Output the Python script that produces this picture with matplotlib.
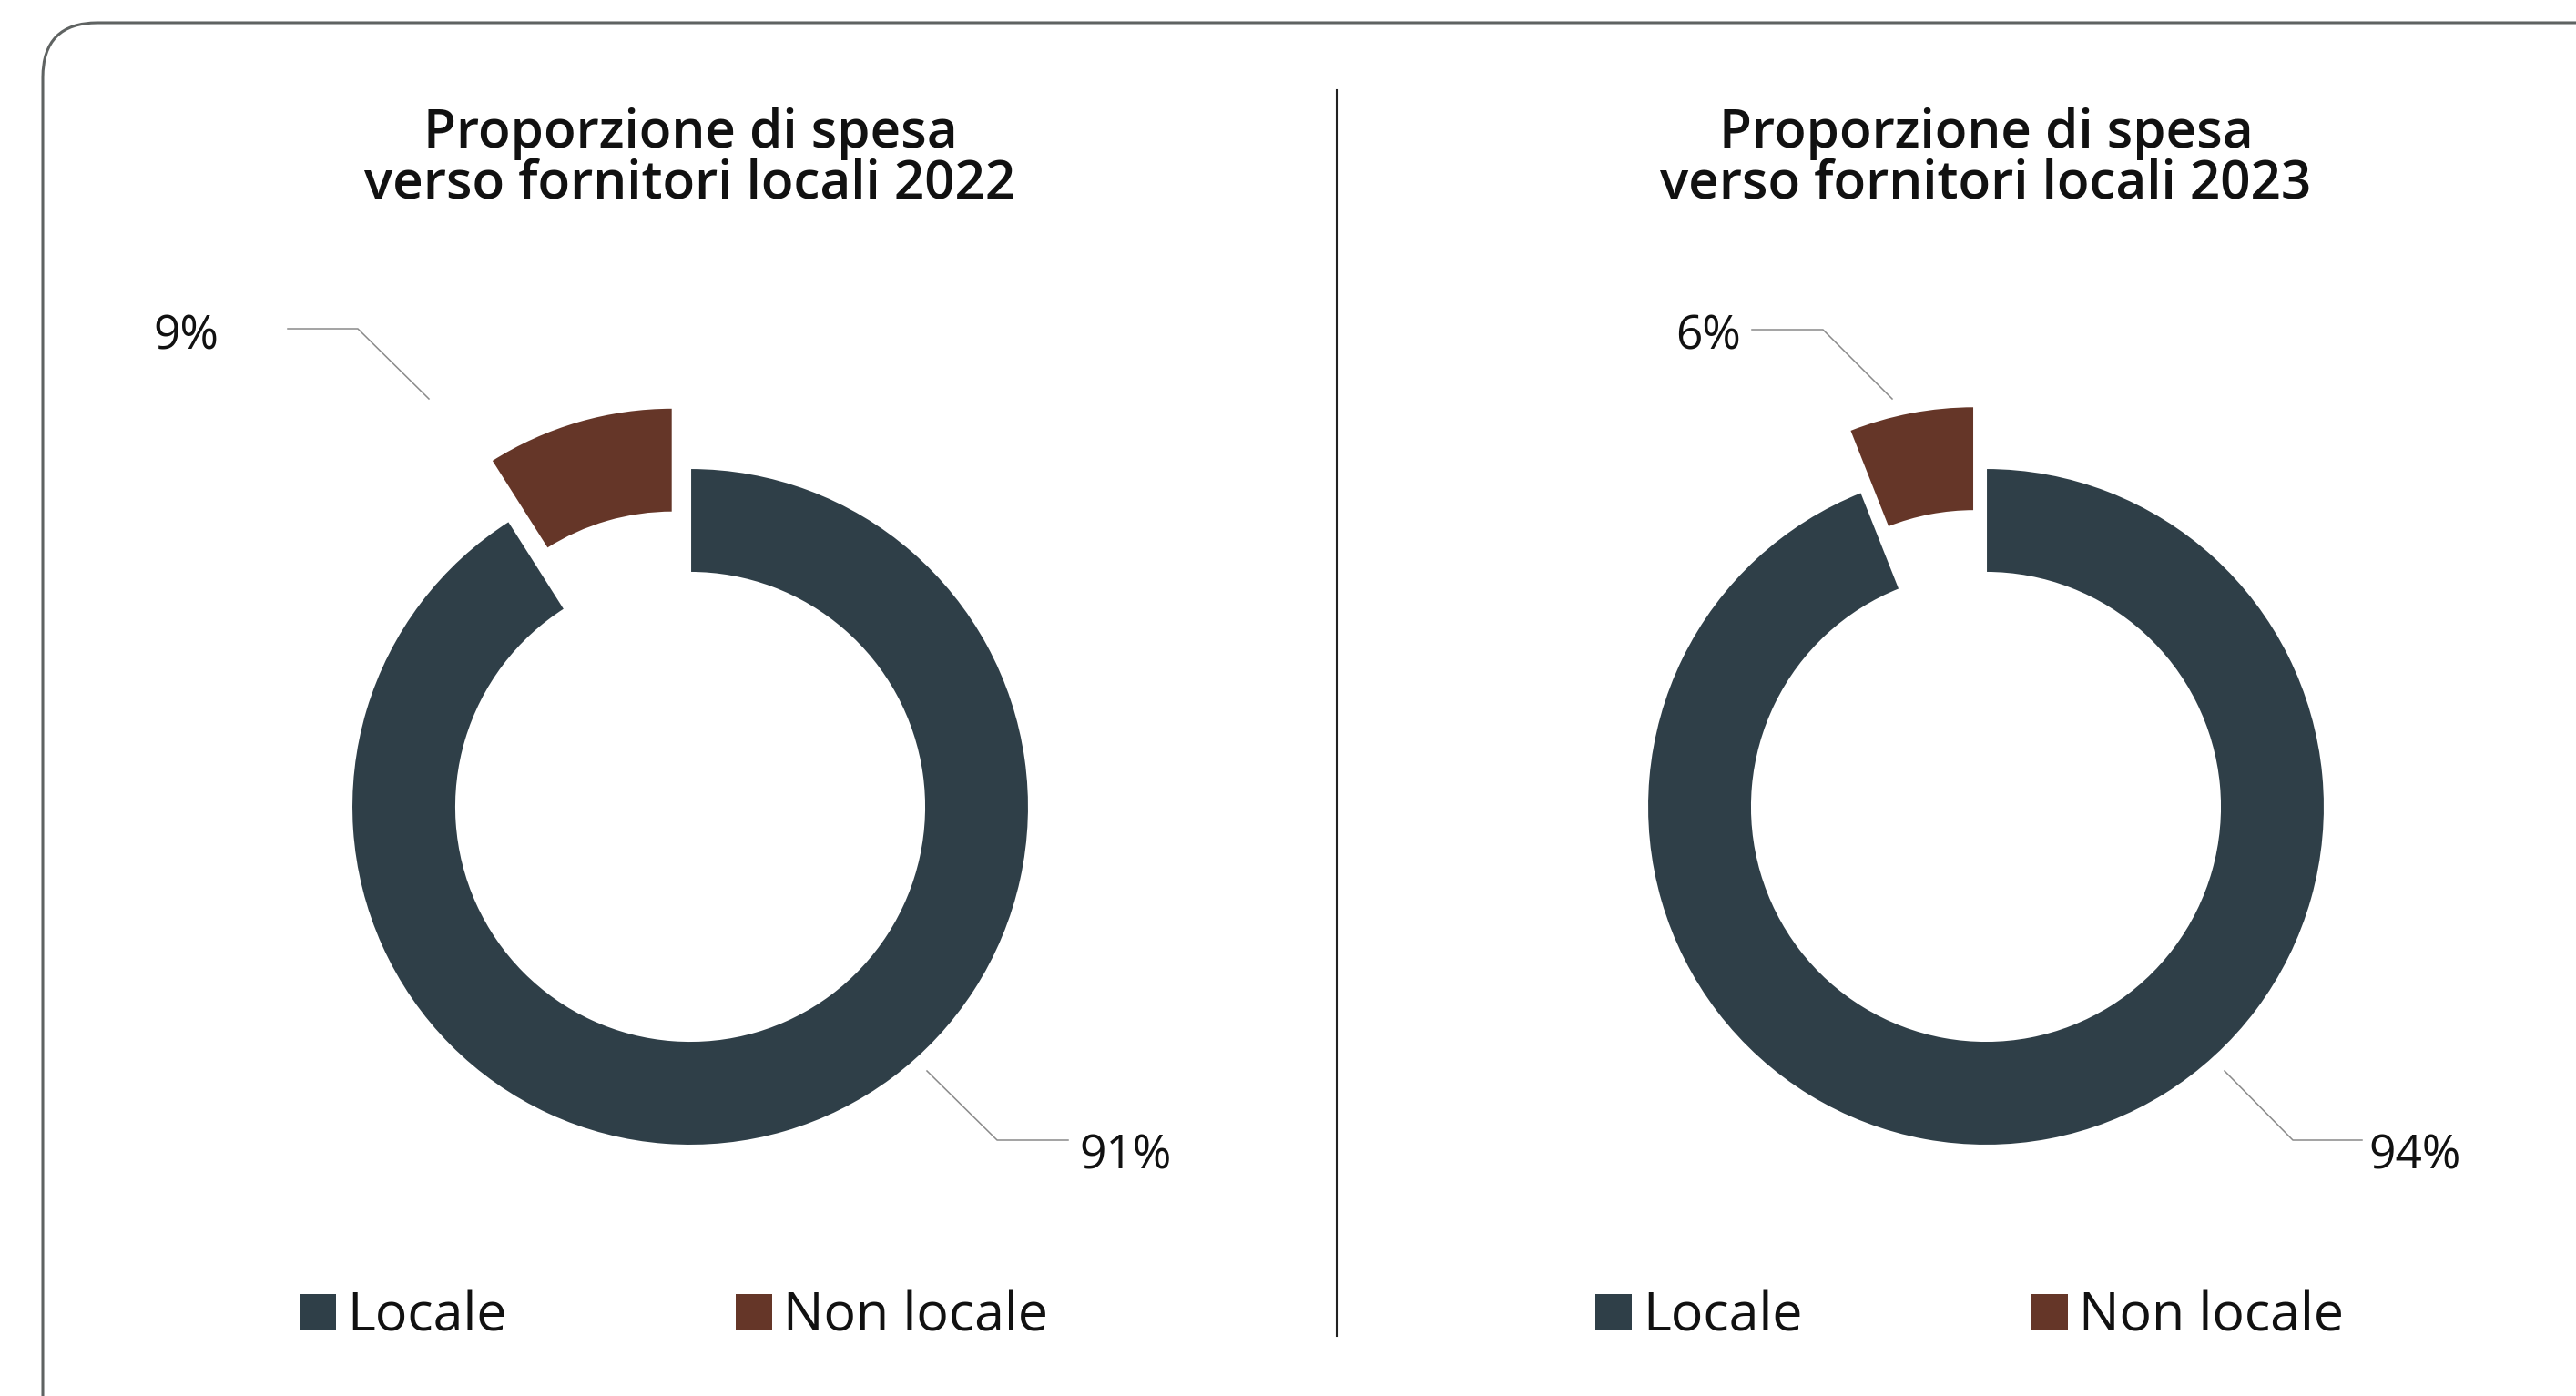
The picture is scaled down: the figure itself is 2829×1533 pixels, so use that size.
import numpy as np
import matplotlib
matplotlib.use('Agg')
import matplotlib.pyplot as plt
from matplotlib.patches import FancyBboxPatch, Rectangle

# Data
years = ['2022', '2023']
categories = ['Locale', 'Non locale']
locale_pct = [91, 94]
non_locale_pct = [9, 6]
colors = ['#2f3f48', '#653628']

W, H = 2829, 1533
DPI = 100

def Y(y):
    '''top-based pixel row -> axes y'''
    return H - y

fig = plt.figure(figsize=(W / DPI, H / DPI), dpi=DPI)
ax = fig.add_axes([0, 0, 1, 1])

title_font = dict(family=['Open Sans', 'DejaVu Sans'], weight='semibold', fontsize=42, color='#111111')
pct_font = dict(family=['Open Sans', 'DejaVu Sans'], weight='normal', fontsize=37, color='#111111')
leg_font = dict(family=['Open Sans', 'DejaVu Sans'], weight='normal', fontsize=42.5, color='#111111')

# outer frame (rounded, cut by the right and bottom edges)
frame = FancyBboxPatch((47, Y(1700)), 3000, 1675,
                       boxstyle='round,pad=0,rounding_size=60',
                       fc='none', ec='#5f6362', lw=2.2, clip_on=True)
ax.add_patch(frame)

# divider
ax.plot([1468, 1468], [Y(99), Y(1467)], color='#222222', lw=1.5)

centers_x = [758, 2181]
center_y = 886
radius = 372
ring = 115
explode_px = 69

# leader lines / label positions (pixel layout, top-based)
small_lines = [[(316, 361), (393, 361), (471, 438)],
               [(1924, 362), (2002, 362), (2078, 438)]]
small_text = [(240, 383), (1912, 383)]
big_lines = [[(1018, 1176), (1095, 1252), (1173, 1252)],
             [(2443, 1176), (2518, 1252), (2594, 1252)]]
big_text = [(1185, 1283), (2601, 1283)]

for i in range(2):
    cx = centers_x[i]
    vals = [locale_pct[i], non_locale_pct[i]]
    ax.pie(vals, colors=colors, startangle=90, counterclock=False,
           center=(cx, Y(center_y)), radius=radius,
           explode=[0, explode_px], frame=True,
           wedgeprops=dict(width=ring, edgecolor='white', linewidth=1.5))

    ax.text(cx, Y(162), 'Proporzione di spesa', ha='center', va='baseline', **title_font)
    ax.text(cx, Y(217), 'verso fornitori locali ' + years[i], ha='center', va='baseline', **title_font)

    xs, ys = zip(*small_lines[i])
    ax.plot(xs, [Y(v) for v in ys], color='#8a8a8a', lw=1.1)
    ax.text(small_text[i][0], Y(small_text[i][1]), '%d%%' % non_locale_pct[i],
            ha='right', va='baseline', **pct_font)

    xs, ys = zip(*big_lines[i])
    ax.plot(xs, [Y(v) for v in ys], color='#8a8a8a', lw=1.1)
    ax.text(big_text[i][0], Y(big_text[i][1]), '%d%%' % locale_pct[i],
            ha='left', va='baseline', **pct_font)

    # legend
    for j, off in enumerate([-429, 50]):
        ax.add_patch(Rectangle((cx + off, Y(1461)), 40, 40, fc=colors[j], ec='none'))
        ax.text(cx + off + 52, Y(1461), categories[j], ha='left', va='baseline', **leg_font)

ax.set_xlim(0, W)
ax.set_ylim(0, H)
ax.set_aspect('equal')
ax.axis('off')

fig.savefig('out.png', dpi=DPI, facecolor='white')
